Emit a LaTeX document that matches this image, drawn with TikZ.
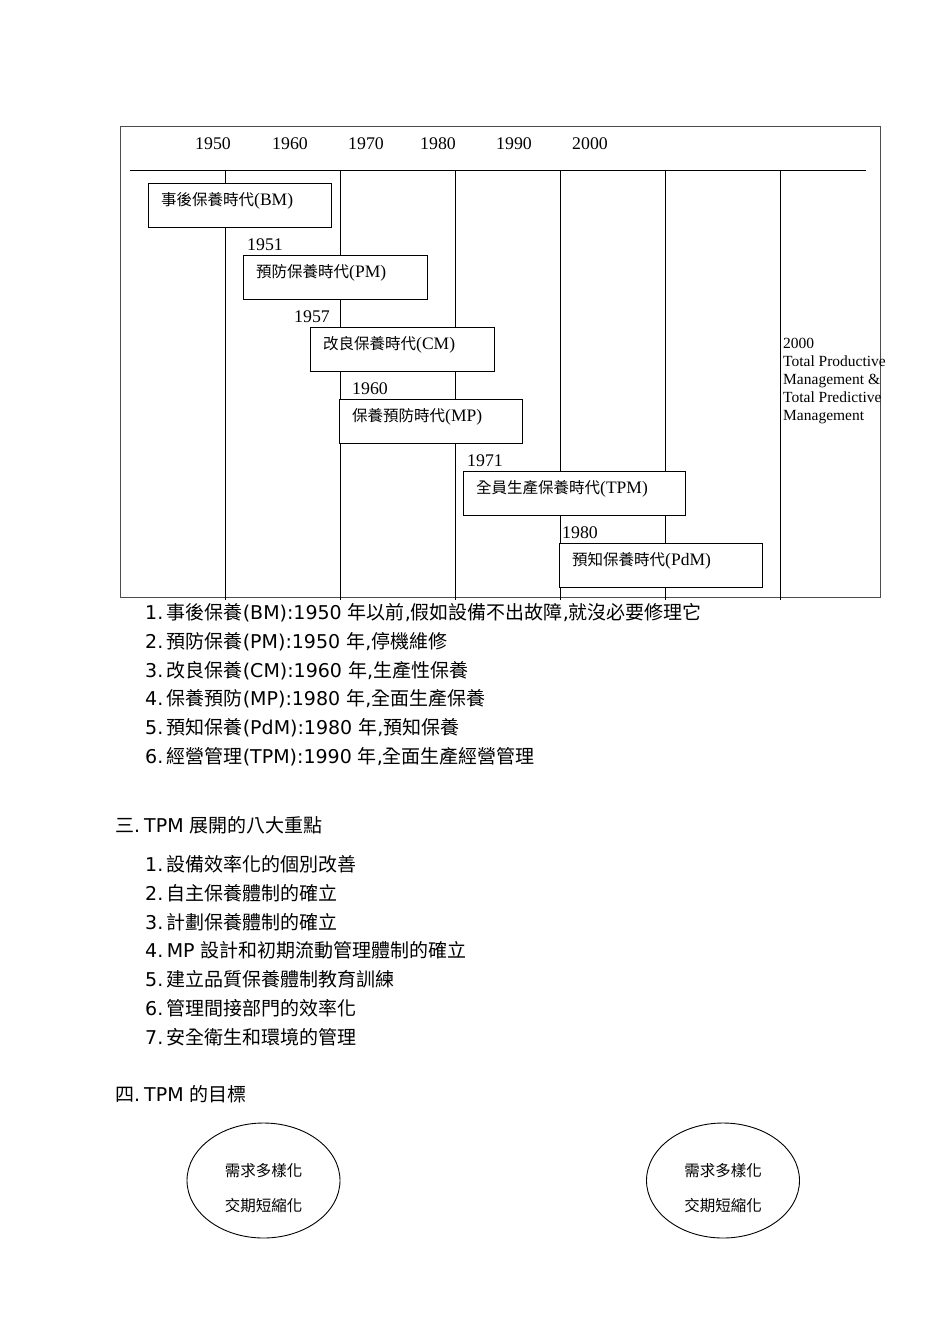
\documentclass[tikz,border=0pt]{standalone}
\usepackage{fontspec}
\setmainfont{Liberation Serif}
\newfontfamily\cjkf{Noto Sans CJK TC}
\newfontfamily\dvs{DejaVu Sans}
\newcommand\Ct[1]{{\cjkf\fontsize{15.5}{18}\selectfont #1}}
\newcommand\K[1]{{\cjkf #1}}
\newcommand\N[1]{#1.\hspace{3.5pt}}
\usetikzlibrary{shapes.geometric}
\begin{document}
\begin{tikzpicture}[x=1pt,y=-1pt,
 yr/.style={anchor=base, inner sep=0, font=\fontsize{17.8}{20}\selectfont},
 ylab/.style={anchor=base west, inner sep=0, font=\fontsize{17.8}{20}\selectfont},
 ebox/.style={draw, line width=1.1pt, fill=white, anchor=north west, inner sep=0, minimum height=44},
 btxt/.style={anchor=base west, inner sep=0, font=\fontsize{17.5}{20}\selectfont},
 rtxt/.style={anchor=north west, inner sep=0, align=left, font=\fontsize{15.5}{18}\selectfont},
 item/.style={anchor=base west, inner sep=0, font=\dvs\fontsize{19}{22}\selectfont},
 goal/.style={draw, ellipse, line width=0.9pt, minimum width=153, minimum height=115, inner sep=0},
 gtxt/.style={inner sep=0, font=\cjkf\fontsize{15.5}{18}\selectfont}]
\path[use as bounding box] (0,0) rectangle (950,1344);
% frame
\draw[line width=1pt, draw=black!70] (120,126.5) rectangle (880.5,597.5);
\draw[line width=1pt] (130,170) -- (866,170);
\foreach \x in {225,340,455,560,665,780} \draw[line width=1pt] (\x,170) -- (\x,600);
% years
\node[yr] (y50) at (213,149) {1950};
\node[yr] (y60) at (290,149) {1960};
\node[yr] (y70) at (366,149) {1970};
\node[yr] (y80) at (438,149) {1980};
\node[yr] (y90) at (514,149) {1990};
\node[yr] (y00) at (590,149) {2000};
% boxes
\node[ebox, minimum width=183] (bm) at (148,183) {};
\node[btxt] (bmt) at (161,205) {\Ct{事後保養時代}(BM)};
\node[ylab] (l51) at (247,250) {1951};
\node[ebox, minimum width=184] (pm) at (243,255) {};
\node[btxt] (pmt) at (256,277) {\Ct{預防保養時代}(PM)};
\node[ylab] (l57) at (294,322) {1957};
\node[ebox, minimum width=184] (cm) at (310,327) {};
\node[btxt] (cmt) at (323,349) {\Ct{改良保養時代}(CM)};
\node[ylab] (l60) at (352,394) {1960};
\node[ebox, minimum width=183] (mp) at (339,399) {};
\node[btxt] (mpt) at (352,421) {\Ct{保養預防時代}(MP)};
\node[ylab] (l71) at (467,466) {1971};
\node[ebox, minimum width=222] (tpm) at (463,471) {};
\node[btxt] (tpmt) at (476,493) {\Ct{全員生產保養時代}(TPM)};
\node[ylab] (l80) at (562,538) {1980};
\node[ebox, minimum width=203] (pdm) at (559,543) {};
\node[btxt] (pdmt) at (572,565) {\Ct{預知保養時代}(PdM)};
\node[rtxt] (r2000) at (783,338) {2000\\Total Productive\\Management \&\\Total Predictive\\Management};
% list 1
\node[item] (a1) at (145,619) {\N{1}\K{事後保養}(BM):1950 \K{年以前},\K{假如設備不出故障},\K{就沒必要修理它}};
\node[item] (a2) at (145,648) {\N{2}\K{預防保養}(PM):1950 \K{年},\K{停機維修}};
\node[item] (a3) at (145,677) {\N{3}\K{改良保養}(CM):1960 \K{年},\K{生產性保養}};
\node[item] (a4) at (145,705) {\N{4}\K{保養預防}(MP):1980 \K{年},\K{全面生產保養}};
\node[item] (a5) at (145,734) {\N{5}\K{預知保養}(PdM):1980 \K{年},\K{預知保養}};
\node[item] (a6) at (145,763) {\N{6}\K{經營管理}(TPM):1990 \K{年},\K{全面生產經營管理}};
% heading 3
\node[item] (h3) at (115,832) {\K{三}.\hspace{4pt}TPM \K{展開的八大重點}};
\node[item] (b1) at (145,871) {\N{1}\K{設備效率化的個別改善}};
\node[item] (b2) at (145,900) {\N{2}\K{自主保養體制的確立}};
\node[item] (b3) at (145,929) {\N{3}\K{計劃保養體制的確立}};
\node[item] (b4) at (145,957) {\N{4}MP \K{設計和初期流動管理體制的確立}};
\node[item] (b5) at (145,986) {\N{5}\K{建立品質保養體制教育訓練}};
\node[item] (b6) at (145,1015) {\N{6}\K{管理間接部門的效率化}};
\node[item] (b7) at (145,1044) {\N{7}\K{安全衛生和環境的管理}};
% heading 4
\node[item] (h4) at (115,1101) {\K{四}.\hspace{4pt}TPM \K{的目標}};
% goals
\node[goal] (g1) at (263.5,1180.5) {};
\node[gtxt] (g1a) at (263.5,1171) {需求多樣化};
\node[gtxt] (g1b) at (263.5,1206) {交期短縮化};
\node[goal] (g2) at (723,1180.5) {};
\node[gtxt] (g2a) at (723,1171) {需求多樣化};
\node[gtxt] (g2b) at (723,1206) {交期短縮化};
\end{tikzpicture}
\end{document}
